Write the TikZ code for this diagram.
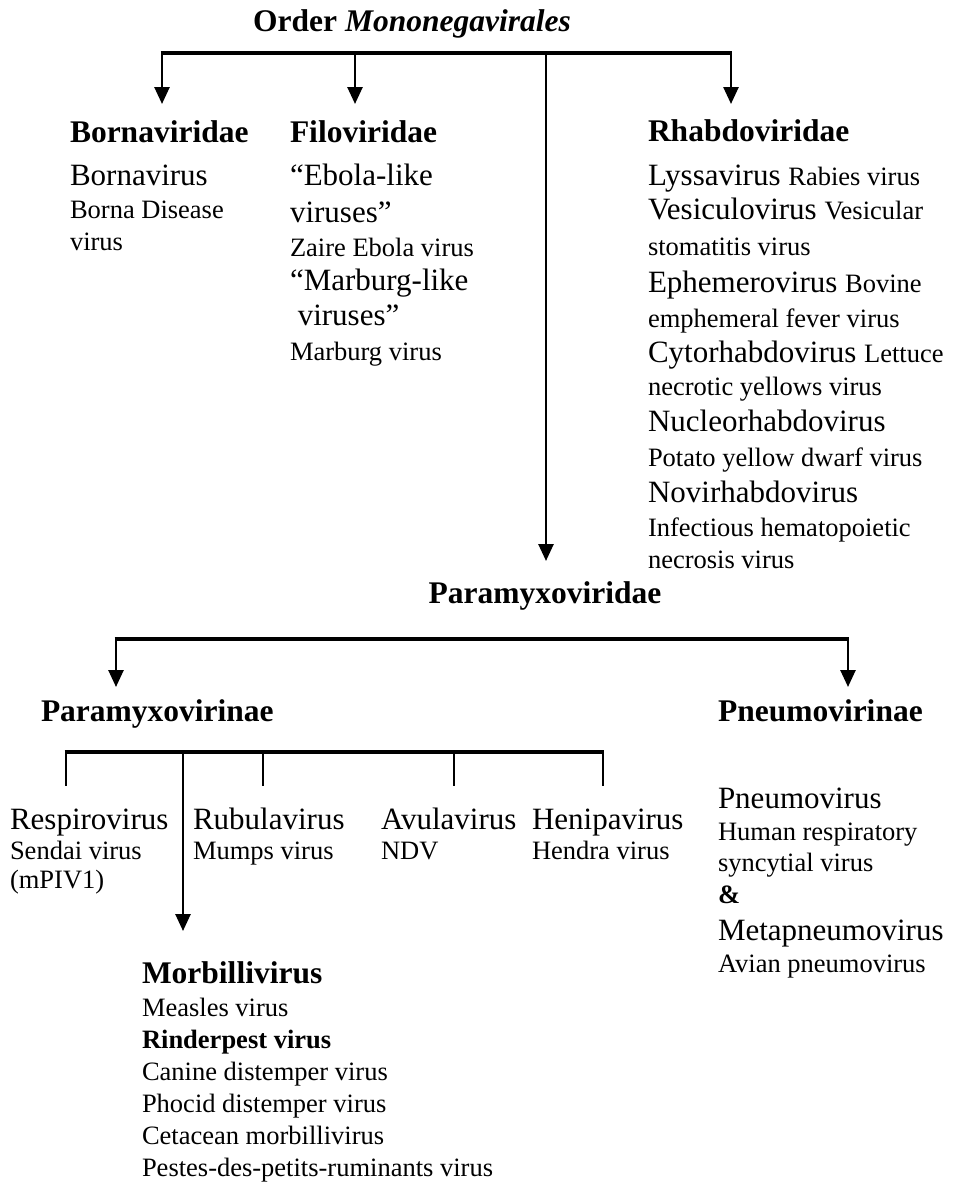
\documentclass[tikz,border=0pt]{standalone}
\usepackage{fontspec}
\setmainfont{Liberation Serif}
\usetikzlibrary{arrows.meta}
\newcommand\bigsz{\fontsize{31}{34}\selectfont}
\newcommand\smsz{\fontsize{26.5}{30}\selectfont}
\newcommand\hdsz{\fontsize{31.5}{34}\selectfont\bfseries}
\begin{document}
\begin{tikzpicture}[x=1pt,y=-1pt,
  lab/.style={anchor=base west,inner sep=0pt,outer sep=0pt},
  big/.style={lab,font=\bigsz},
  small/.style={lab,font=\smsz},
  head/.style={lab,font=\hdsz},
  bar/.style={line width=3.5pt},
  stem/.style={line width=2.6pt},
  arr/.style={line width=2.6pt,-{Triangle[length=17pt,width=15pt]}}]
\useasboundingbox (0,0) rectangle (963,1184);

% ---------- title ----------
\node[anchor=base,inner sep=0pt,font=\hdsz] (title) at (412,31) {Order \textit{Mononegavirales}};

% top bar
\coordinate (tb1) at (162,53);
\coordinate (tb2) at (355,53);
\coordinate (tb3) at (546,53);
\coordinate (tb4) at (731,53);
\draw[bar] ([xshift=-1.3pt]tb1) -- ([xshift=1.3pt]tb4);
\coordinate (t1) at (162,104);
\coordinate (t2) at (355,104);
\coordinate (t4) at (731,104);
\coordinate (t3) at (546,561);
\draw[arr] (tb1) -- (t1);
\draw[arr] (tb2) -- (t2);
\draw[arr] (tb4) -- (t4);
\draw[arr] (tb3) -- (t3);

% ---------- Bornaviridae ----------
\node[head] (borna) at (70,142) {Bornaviridae};
\node[big] (bornav) at (70,185) {Bornavirus};
\node[small] (bornad1) at (70,218) {Borna Disease};
\node[small] (bornad2) at (70,250) {virus};

% ---------- Filoviridae ----------
\node[head] (filo) at (290,142) {Filoviridae};
\node[big] (ebl1) at (290,185) {“Ebola-like};
\node[big] (ebl2) at (290,222) {viruses”};
\node[small] (zaire) at (290,256) {Zaire Ebola virus};
\node[big] (mbl1) at (290,290) {“Marburg-like};
\node[big] (mbl2) at (290,325) {\ viruses”};
\node[small] (marb) at (290,360) {Marburg virus};

% ---------- Rhabdoviridae ----------
\node[head] (rhabdo) at (648,141) {Rhabdoviridae};
\node[big] (r1) at (648,185) {Lyssavirus {\smsz Rabies virus}};
\node[big] (r2) at (648,219) {Vesiculovirus {\smsz Vesicular}};
\node[small] (r3) at (648,255) {stomatitis virus};
\node[big] (r4) at (648,292) {Ephemerovirus {\smsz Bovine}};
\node[small] (r5) at (648,327) {emphemeral fever virus};
\node[big] (r6) at (648,362) {Cytorhabdovirus {\smsz Lettuce}};
\node[small] (r7) at (648,395) {necrotic yellows virus};
\node[big] (r8) at (648,431) {Nucleorhabdovirus};
\node[small] (r9) at (648,466) {Potato yellow dwarf virus};
\node[big] (r10) at (648,502) {Novirhabdovirus};
\node[small] (r11) at (648,536) {Infectious hematopoietic};
\node[small] (r12) at (648,568) {necrosis virus};

% ---------- Paramyxoviridae ----------
\node[anchor=base,inner sep=0pt,font=\hdsz] (paramyxo) at (545,603) {Paramyxoviridae};
\coordinate (pb1) at (116,639);
\coordinate (pb2) at (848,639);
\draw[bar] ([xshift=-1.3pt]pb1) -- ([xshift=1.3pt]pb2);
\coordinate (p1) at (116,687);
\coordinate (p2) at (848,687);
\draw[arr] (pb1) -- (p1);
\draw[arr] (pb2) -- (p2);

\node[head] (paravir) at (41,721) {Paramyxovirinae};
\node[head] (pneuvir) at (718,721) {Pneumovirinae};

% sub bar
\coordinate (sb1) at (66,752);
\coordinate (sb2) at (263,752);
\coordinate (sb3) at (454,752);
\coordinate (sb4) at (603,752);
\coordinate (sbm) at (183,752);
\draw[bar] ([xshift=-1.3pt]sb1) -- ([xshift=1.3pt]sb4);
\coordinate (s1) at (66,786);
\coordinate (s2) at (263,786);
\coordinate (s3) at (454,786);
\coordinate (s4) at (603,786);
\draw[stem] (sb1) -- (s1);
\draw[stem] (sb2) -- (s2);
\draw[stem] (sb3) -- (s3);
\draw[stem] (sb4) -- (s4);
\coordinate (sm) at (183,931);
\draw[arr] (sbm) -- (sm);

\node[big] (resp) at (10,829) {Respirovirus};
\node[small] (sendai) at (10,859) {Sendai virus};
\node[small] (mpiv) at (10,888) {(mPIV1)};
\node[big] (rubula) at (193,829) {Rubulavirus};
\node[small] (mumps) at (193,859) {Mumps virus};
\node[big] (avula) at (381,829) {Avulavirus};
\node[small] (ndv) at (381,859) {NDV};
\node[big] (heni) at (532,829) {Henipavirus};
\node[small] (hendra) at (532,859) {Hendra virus};

% Pneumovirinae genera
\node[big] (pneu) at (718,808) {Pneumovirus};
\node[small] (hrsv1) at (718,840) {Human respiratory};
\node[small] (hrsv2) at (718,871) {syncytial virus};
\node[small,font=\smsz\bfseries] (amp) at (718,903) {\&};
\node[big] (meta) at (718,940) {Metapneumovirus};
\node[small] (apv) at (718,972) {Avian pneumovirus};

% Morbillivirus
\node[head] (morb) at (142,983) {Morbillivirus};
\node[small] (m1) at (142,1016) {Measles virus};
\node[small,font=\smsz\bfseries] (m2) at (142,1048) {Rinderpest virus};
\node[small] (m3) at (142,1080) {Canine distemper virus};
\node[small] (m4) at (142,1112) {Phocid distemper virus};
\node[small] (m5) at (142,1144) {Cetacean morbillivirus};
\node[small] (m6) at (142,1176) {Pestes-des-petits-ruminants virus};
\end{tikzpicture}
\end{document}
